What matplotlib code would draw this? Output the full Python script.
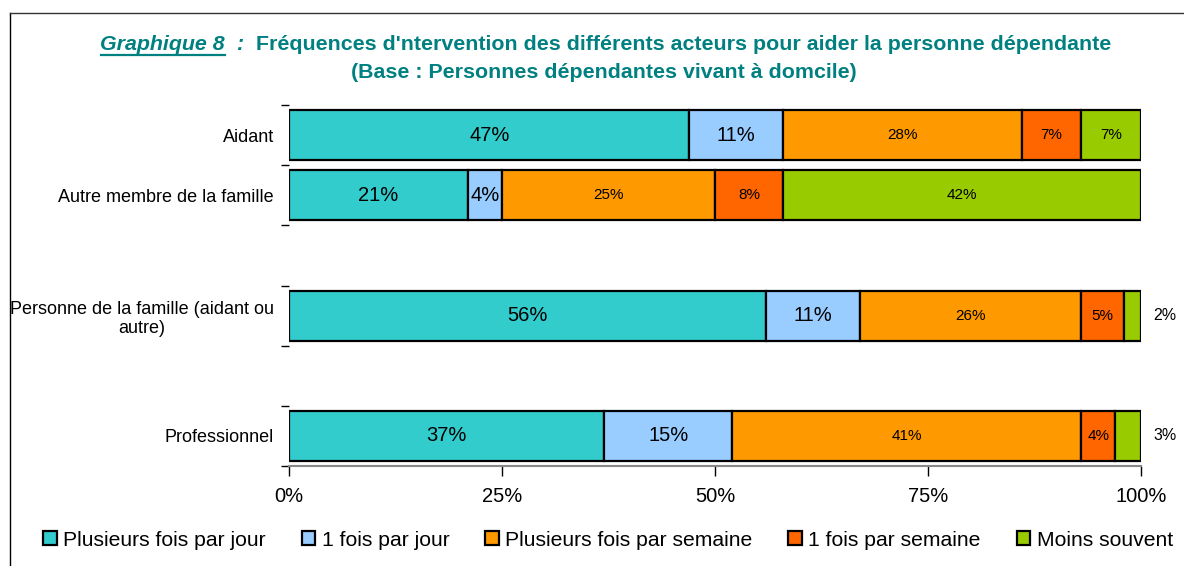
import matplotlib
matplotlib.use('Agg')
import matplotlib.pyplot as plt
from matplotlib.lines import Line2D
from matplotlib.patches import Patch

categories = ["Aidant", "Autre membre de la famille",
              "Personne de la famille (aidant ou\nautre)", "Professionnel"]
slots = [0, 1, 3, 5]
series_names = ["Plusieurs fois par jour", "1 fois par jour",
                "Plusieurs fois par semaine", "1 fois par semaine", "Moins souvent"]
plusieurs_jour = [47, 21, 56, 37]
une_jour = [11, 4, 11, 15]
plusieurs_semaine = [28, 25, 26, 41]
une_semaine = [7, 8, 5, 4]
moins_souvent = [7, 42, 2, 3]
series = [plusieurs_jour, une_jour, plusieurs_semaine, une_semaine, moins_souvent]
colors = ["#33CCCC", "#99CCFF", "#FF9900", "#FF6600", "#99CC00"]
xticks = [0, 25, 50, 75, 100]
xticklabels = ["0%", "25%", "50%", "75%", "100%"]

plt.rcParams['font.family'] = ['Liberation Sans', 'DejaVu Sans']
TEAL = "#008080"

fig = plt.figure(figsize=(11.84, 5.66), dpi=100)
ax = fig.add_axes([289/1184, 1-466/566, (1141-289)/1184, (466-105)/566])

left = [0]*len(categories)
for si, vals in enumerate(series):
    ax.barh(slots, vals, left=left, height=0.83, color=colors[si],
            edgecolor='black', linewidth=1.6, zorder=3)
    for i, v in enumerate(vals):
        fs = 14.5 if si < 2 else 11
        if v <= 3:
            ax.text(102.8, slots[i], f"{v}%", ha='center', va='center',
                    fontsize=11.5, clip_on=False)
        else:
            ax.text(left[i] + v/2, slots[i], f"{v}%", ha='center', va='center',
                    fontsize=fs, zorder=4)
    left = [l + v for l, v in zip(left, vals)]

ax.set_xlim(0, 100)
ax.set_ylim(5.5, -0.5)
ax.set_xticks(xticks)
ax.set_xticklabels(xticklabels, fontsize=14.5)
ax.tick_params(axis='x', length=7, width=1, pad=8, color='black')
ax.set_yticks(slots)
ax.set_yticklabels(categories, fontsize=13, multialignment='center')
ax.tick_params(axis='y', which='major', length=0, pad=11)
ax.set_yticks([s - 0.5 for s in range(7)], minor=True)
ax.tick_params(axis='y', which='minor', length=6, width=1, color='black')
for s in ['top', 'right', 'left']:
    ax.spines[s].set_visible(False)
ax.spines['bottom'].set_color('#888888')
ax.spines['bottom'].set_linewidth(1.5)

# frame
fy = 1 - 13/566
fx = 10/1184
fig.add_artist(Line2D([fx, fx], [0, fy], transform=fig.transFigure, color='black', lw=1))
fig.add_artist(Line2D([fx, 1], [fy, fy], transform=fig.transFigure, color='#333333', lw=1))

# legend
handles = [Patch(facecolor=c, edgecolor='black', linewidth=1.6) for c in colors]
leg = fig.legend(handles, series_names, loc='center', bbox_to_anchor=(608/1184, 1-540/566),
                 ncol=5, frameon=False, fontsize=15.2, handlelength=0.65, handleheight=0.65,
                 handletextpad=0.3, columnspacing=1.7, borderaxespad=0)

# title line 1 built from pieces
renderer = fig.canvas.get_renderer()
y1 = 1 - 44/566
TFS = 15.4
pieces = [("Graphique 8", dict(fontweight='bold', fontstyle='italic')),
          ("  :  ", dict(fontweight='bold', fontstyle='italic')),
          ("Fréquences d'ntervention des différents acteurs pour aider la personne dépendante",
           dict(fontweight='bold'))]
texts = []
for s, kw in pieces:
    t = fig.text(0, y1, s, ha='left', va='center', fontsize=TFS, color=TEAL, **kw)
    texts.append(t)
widths = [t.get_window_extent(renderer).width for t in texts]
total = sum(widths)
x0 = (606 - total/2)
x = x0
for t, w in zip(texts, widths):
    t.set_x(x/1184)
    x += w
bb = texts[0].get_window_extent(renderer)
uy = (bb.y0 - 1)/566
fig.add_artist(Line2D([x0/1184, (x0+widths[0])/1184], [uy, uy], transform=fig.transFigure,
                      color=TEAL, lw=1.6))
fig.text(604/1184, 1 - 72/566, "(Base : Personnes dépendantes vivant à domcile)",
         ha='center', va='center', fontsize=TFS, fontweight='bold', color=TEAL)

fig.savefig('out.png', dpi=100)
